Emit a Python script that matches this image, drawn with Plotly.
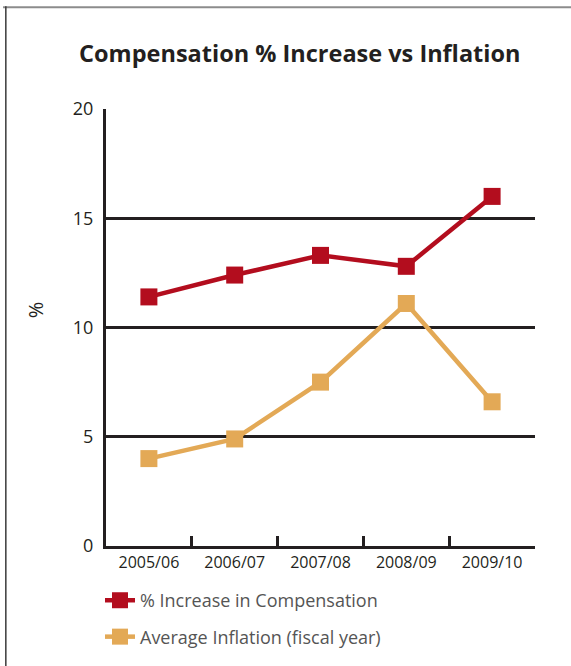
import plotly.graph_objects as go

years = ["2005/06", "2006/07", "2007/08", "2008/09", "2009/10"]
compensation = [11.4, 12.4, 13.3, 12.8, 16.0]
inflation = [4.0, 4.9, 7.5, 11.1, 6.6]
y_ticks = [0, 5, 10, 15, 20]

RED = "#b30d1e"
ORANGE = "#e3a956"
INK = "#231f20"
FONT = "Open Sans"

fig = go.Figure()
fig.add_trace(go.Scatter(
    x=years, y=compensation, name="% Increase in Compensation",
    mode="lines+markers", legendgroup="a",
    line=dict(color=RED, width=4.5),
    marker=dict(symbol="square", size=17, color=RED),
))
fig.add_trace(go.Scatter(
    x=years, y=inflation, name="Average Inflation (fiscal year)",
    mode="lines+markers", legendgroup="b",
    line=dict(color=ORANGE, width=4.5),
    marker=dict(symbol="square", size=17, color=ORANGE),
))

# outer frame (top and left edges of the panel)
fig.add_shape(type="line", xref="paper", yref="paper",
              x0=-0.24, x1=1.2, y0=1.233, y1=1.233,
              line=dict(color="#8c8c8c", width=2))
fig.add_shape(type="line", xref="paper", yref="paper",
              x0=-0.2335, x1=-0.2335, y0=1.235, y1=-0.5,
              line=dict(color="#3a3a3a", width=1.5))

# vertical axis label
fig.add_annotation(text="%", xref="paper", yref="paper",
                   x=-0.165, y=0.54, xanchor="center", yanchor="middle",
                   showarrow=False, textangle=-90,
                   font=dict(family=FONT, size=20, color=INK))

fig.update_layout(
    width=571, height=666,
    margin=dict(l=106, r=36, t=109, b=119),
    paper_bgcolor="white", plot_bgcolor="white",
    title=dict(text="<b>Compensation % Increase vs Inflation</b>",
               x=0.525, xanchor="center", y=0.92, yanchor="middle",
               font=dict(family=FONT, size=23.5, color=INK)),
    font=dict(family=FONT, color=INK),
    showlegend=True,
    legend=dict(x=-0.014, xanchor="left", y=-0.08, yanchor="top",
                traceorder="grouped", tracegroupgap=10,
                font=dict(family=FONT, size=18, color="#555555"),
                bgcolor="rgba(0,0,0,0)", itemwidth=30),
    xaxis=dict(type="category", range=[-0.5, 4.5],
               showline=True, linecolor=INK, linewidth=3,
               ticks="inside", tickson="boundaries", ticklen=10,
               tickwidth=3, tickcolor=INK, showgrid=False,
               tickfont=dict(family=FONT, size=16, color=INK)),
    yaxis=dict(range=[0, 20], tickvals=y_ticks, ticks="",
               showline=True, linecolor=INK, linewidth=3,
               showgrid=True, gridcolor=INK, gridwidth=2.5,
               zeroline=False, ticklabelstandoff=6,
               tickfont=dict(family=FONT, size=18, color=INK)),
)

fig.write_html("out.html")
